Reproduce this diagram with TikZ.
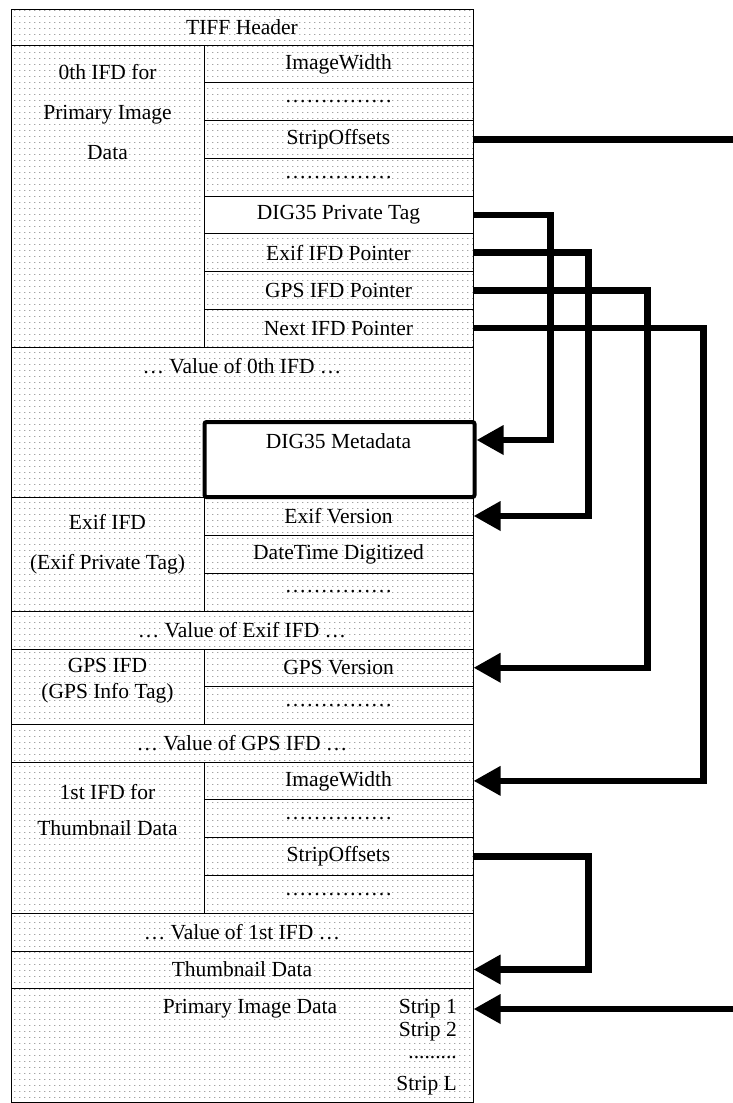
\documentclass[tikz,border=0pt]{standalone}
\usepackage{fontspec}
\setmainfont{Liberation Serif}
\usetikzlibrary{arrows.meta,patterns.meta}
\tikzdeclarepattern{
  name=tiffdots,
  type=uncolored,
  bounding box={(0pt,0pt) and (4.5pt,6pt)},
  tile size={(4.5pt,6pt)},
  code={\fill (0pt,0pt) rectangle (1.5pt,0.8pt);}
}
\tikzstyle{cell}=[rectangle, draw=black, line width=1pt, pattern=tiffdots, pattern color=black!55, inner sep=0pt, anchor=center]
\tikzstyle{blank}=[rectangle, draw=black, line width=1pt, fill=white, inner sep=0pt, anchor=center]
\tikzstyle{annot}=[align=center, inner sep=0pt]
\tikzstyle{wire}=[line width=6.5pt]
\tikzstyle{ptr}=[line width=6.5pt, -{Triangle[length=27pt,width=28pt]}]

\begin{document}
\begin{tikzpicture}[x=1pt, y=-1pt, font=\fontsize{21.5}{25}\selectfont]
	\useasboundingbox (0,0) rectangle (733,1103);
	\coordinate (rim) at (733,0);

	\node[cell, minimum width=462pt, minimum height=36pt] (header) at (242,27) {TIFF Header};

	% 0th IFD
	\node[cell, minimum width=193pt, minimum height=302pt] (ifd0) at (107.5,196) {};
	\node[annot, font=\fontsize{21.5}{40}\selectfont] (ifd0t) at (107.5,112) {0th IFD for\\Primary Image\\Data};
	\foreach \txt/\sty [count=\i] in {ImageWidth/cell, ……………/cell, StripOffsets/cell, ……………/cell,
	    DIG35 Private Tag/blank, Exif IFD Pointer/cell, GPS IFD Pointer/cell, Next IFD Pointer/cell}
		\node[\sty, minimum width=269pt, minimum height=37.75pt] (w0-\i) at (338.5,{45+37.75*(\i-0.5)}) {\txt};

	\node[cell, minimum width=462pt, minimum height=150pt] (val0) at (242,422) {};
	\node[annot] (val0t) at (242,366) {… Value of 0th IFD …};
	\node[rectangle, draw=black, line width=4pt, rounded corners=2pt, fill=white, minimum width=270pt, minimum height=75pt] (dig35) at (339.5,459.5) {};
	\node[annot] (dig35t) at (338.5,441) {DIG35 Metadata};

	% Exif IFD
	\node[cell, minimum width=193pt, minimum height=114pt] (exif) at (107.5,554) {};
	\node[annot, font=\fontsize{21.5}{40}\selectfont] (exift) at (107.5,544) {Exif IFD\\(Exif Private Tag)};
	\foreach \txt [count=\i] in {Exif Version, DateTime Digitized, ……………}
		\node[cell, minimum width=269pt, minimum height=38pt] (ex-\i) at (338.5,{497+38*(\i-0.5)}) {\txt};
	\node[cell, minimum width=462pt, minimum height=38pt] (valexif) at (242,630) {… Value of Exif IFD …};

	% GPS IFD
	\node[cell, minimum width=193pt, minimum height=75pt] (gps) at (107.5,686.5) {};
	\node[annot, font=\fontsize{21.5}{26}\selectfont] (gpst) at (107.5,681) {GPS IFD\\(GPS Info Tag)};
	\foreach \txt [count=\i] in {GPS Version, ……………}
		\node[cell, minimum width=269pt, minimum height=37.5pt] (gp-\i) at (338.5,{649+37.5*(\i-0.5)}) {\txt};
	\node[cell, minimum width=462pt, minimum height=38pt] (valgps) at (242,743) {… Value of GPS IFD …};

	% 1st IFD
	\node[cell, minimum width=193pt, minimum height=151pt] (ifd1) at (107.5,837.5) {};
	\node[annot, font=\fontsize{21.5}{36}\selectfont] (ifd1t) at (107.5,810) {1st IFD for\\Thumbnail Data};
	\foreach \txt [count=\i] in {ImageWidth, ……………, StripOffsets, ……………}
		\node[cell, minimum width=269pt, minimum height=37.75pt] (w1-\i) at (338.5,{762+37.75*(\i-0.5)}) {\txt};
	\node[cell, minimum width=462pt, minimum height=38pt] (val1) at (242,932) {… Value of 1st IFD …};
	\node[cell, minimum width=462pt, minimum height=37pt] (thumb) at (242,969.5) {Thumbnail Data};

	% primary image data
	\node[cell, minimum width=462pt, minimum height=114pt] (prim) at (242,1045) {};
	\node[annot] (primt) at (250,1009) {Primary Image Data};
	\node[annot, anchor=east] (strip1) at (457,1009) {Strip 1};
	\node[annot, anchor=east] (strip2) at (457,1032) {Strip 2};
	\node[annot, anchor=east] (stripdots) at (457,1058) {.........};
	\node[annot, anchor=east] (stripL) at (457,1086) {Strip L};

	% pointers
	\draw[wire] (w0-3.east) -- (w0-3.east -| rim);
	\draw[ptr] (w0-5.east) -- ++(77,0) |- ([yshift=-20pt]dig35.north east);
	\draw[ptr] (w0-6.east) -- ++(115,0) |- (ex-1.east);
	\draw[ptr] (w0-7.east) -- ++(174,0) |- (gp-1.east);
	\draw[ptr] (w0-8.east) -- ++(230,0) |- (w1-1.east);
	\draw[ptr] (w1-3.east) -- ++(115,0) |- (thumb.east);
	\draw[ptr] (strip1 -| rim) -- (strip1 -| prim.east);
\end{tikzpicture}
\end{document}
